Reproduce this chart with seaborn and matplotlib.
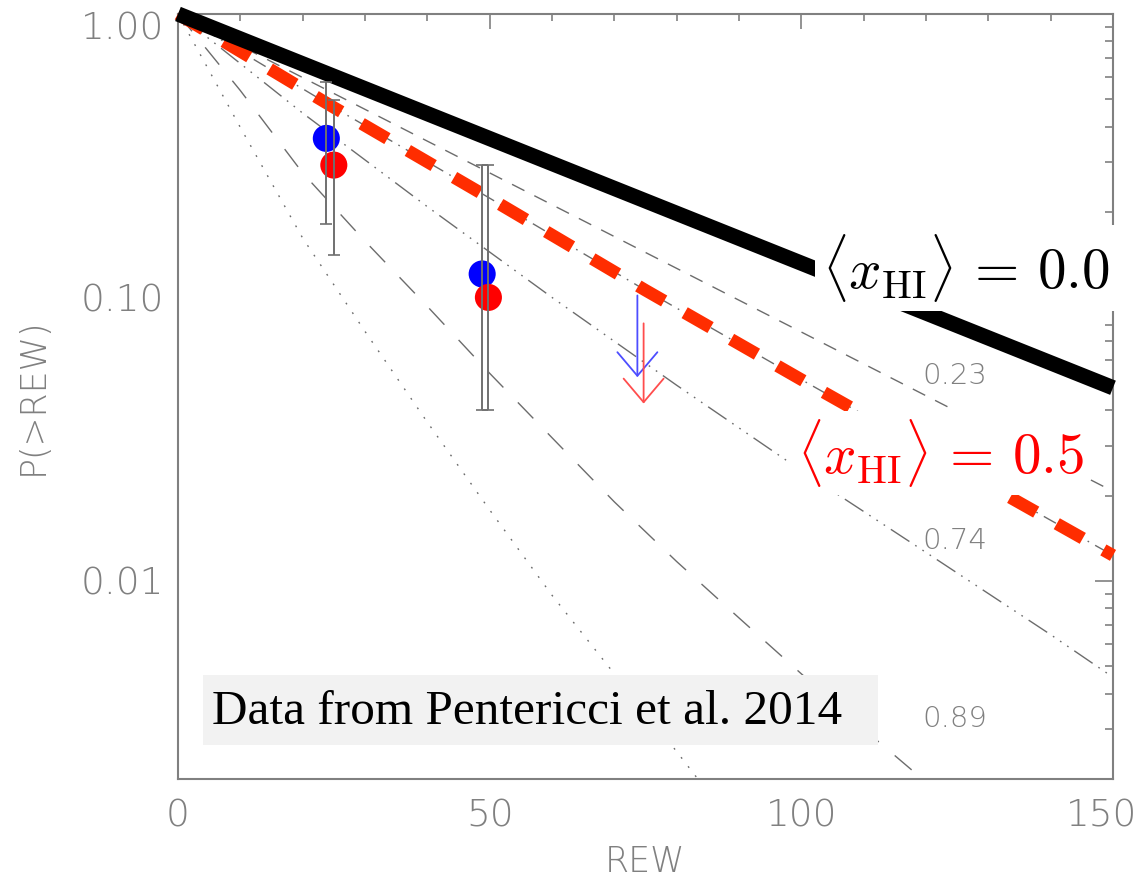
import matplotlib
matplotlib.use("Agg")
import matplotlib.pyplot as plt
import matplotlib.transforms as mtransforms
import seaborn as sns
import pandas as pd
from matplotlib.ticker import MultipleLocator, LogLocator, NullFormatter
from matplotlib.patches import Rectangle

# ---------------- data ----------------
# model curves P(>REW)
rew_x00 = [0, 150]
p_x00 = [1.0, 0.048]

rew_x05 = [0, 25, 50, 75, 100, 125, 150]
p_x05 = [1.0, 0.468, 0.224, 0.106, 0.0513, 0.0251, 0.0123]

rew_x023 = [0, 50, 100, 150]
p_x023 = [1.0, 0.275, 0.0755, 0.0207]

rew_x074 = [0, 20, 40, 60, 80, 100, 120, 140, 150]
p_x074 = [1.0, 0.447, 0.209, 0.100, 0.049, 0.0245, 0.0126, 0.00646, 0.00457]

rew_x089 = [0, 10, 20, 30, 40, 50, 60, 70, 80, 90, 100, 110, 120]
p_x089 = [1.0, 0.537, 0.275, 0.158, 0.093, 0.054, 0.032, 0.019, 0.0117,
          0.0074, 0.0047, 0.0030, 0.00195]

rew_xdot = [0, 10, 20, 30, 40, 50, 60, 70, 80, 85]
p_xdot = [1.0, 0.398, 0.162, 0.0759, 0.0363, 0.0178, 0.0089, 0.0047, 0.0025, 0.0018]

# observations (Pentericci et al. 2014)
obs_rew_blue = [23.8, 48.8]
obs_p_blue = [0.364, 0.121]
obs_lo_blue = [0.182, 0.0401]
obs_hi_blue = [0.576, 0.293]

obs_rew_red = [25.0, 49.8]
obs_p_red = [0.293, 0.100]
obs_lo_red = [0.141, 0.0401]
obs_hi_red = [0.497, 0.293]

# upper limits
ul_rew = [73.7, 74.7]
ul_top = [0.1016, 0.081]
ul_tip = [0.0523, 0.0422]
ul_colors = ["#4d4dff", "#ff4d4d"]

# annotations
curve_labels = ["0.23", "0.74", "0.89"]
curve_label_rew = [119.5, 119.5, 119.5]
curve_label_p = [0.053, 0.0138, 0.00325]

ytick_vals = [0.01, 0.1, 1.0]
ytick_labels = ["0.01", "0.10", "1.00"]
xtick_vals = [0, 50, 100, 150]
xtick_labels = ["0", "50", "100", "150"]

# ---------------- style ----------------
sns.set_style("white")
plt.rcParams["font.family"] = ["DejaVu Sans"]
plt.rcParams["mathtext.fontset"] = "cm"
plt.rcParams["lines.scale_dashes"] = False
GRAY = "#808080"
LGRAY = "#6c6c6c"

fig = plt.figure(figsize=(11.46, 8.85), dpi=100)
ax = fig.add_axes([0.1553, 0.1198, 0.8159, 0.8644])
ax.set_yscale("log")

def curve(rew, p, **kw):
    df = pd.DataFrame({"REW": rew, "P": p})
    sns.lineplot(data=df, x="REW", y="P", ax=ax, estimator=None, sort=False,
                 legend=False, **kw)

curve(rew_x023, p_x023, color=LGRAY, linewidth=1.0, linestyle=(0, (10, 8)), zorder=2)
curve(rew_x05, p_x05, color=LGRAY, linewidth=1.0, linestyle=(0, (10, 5, 1.2, 5)), zorder=2)
curve(rew_x074, p_x074, color=LGRAY, linewidth=1.0,
      linestyle=(0, (16, 5, 1.2, 5, 1.2, 5, 1.2, 5)), zorder=2)
curve(rew_x089, p_x089, color=LGRAY, linewidth=1.0, linestyle=(0, (16, 15)), zorder=2)
curve(rew_xdot, p_xdot, color=LGRAY, linewidth=1.0, linestyle=(0, (1.3, 7)), zorder=2)

curve(rew_x05, p_x05, color="#ff2d00", linewidth=9, linestyle=(0, (21.5, 17)),
      solid_capstyle="butt", dash_capstyle="butt", zorder=3, clip_on=False)
curve(rew_x00, p_x00, color="black", linewidth=11, solid_capstyle="butt",
      zorder=3.2, clip_on=False)

# points
sns.scatterplot(x=obs_rew_blue, y=obs_p_blue, color="#0000ff", s=380,
                edgecolor="none", ax=ax, zorder=4, legend=False)
sns.scatterplot(x=obs_rew_red, y=obs_p_red, color="#ff0000", s=380,
                edgecolor="none", ax=ax, zorder=4.1, legend=False)

for xs, ps, lo, hi in [(obs_rew_blue, obs_p_blue, obs_lo_blue, obs_hi_blue),
                       (obs_rew_red, obs_p_red, obs_lo_red, obs_hi_red)]:
    yerr = [[p - l for p, l in zip(ps, lo)], [h - p for p, h in zip(ps, hi)]]
    ax.errorbar(xs, ps, yerr=yerr, fmt="none", ecolor="#707070", elinewidth=1.4,
                capsize=4, capthick=1.2, zorder=4.5)

for x, top, tip, c in zip(ul_rew, ul_top, ul_tip, ul_colors):
    ax.annotate("", xy=(x, tip), xytext=(x, top),
                arrowprops=dict(arrowstyle="->,head_length=0.85,head_width=0.72",
                                color=c, lw=1.3, shrinkA=0, shrinkB=0,
                                mutation_scale=20),
                zorder=4.6)

# axes
ax.set_xlim(0, 150)
ax.set_ylim(0.002, 1.0)
ax.set_xticks(xtick_vals)
ax.set_xticklabels(xtick_labels)
ax.xaxis.set_minor_locator(MultipleLocator(10))
ax.set_yticks(ytick_vals)
ax.set_yticklabels(ytick_labels)
ax.yaxis.set_minor_locator(LogLocator(base=10, subs=[2, 3, 4, 5, 6, 7, 8, 9]))
ax.yaxis.set_minor_formatter(NullFormatter())

ax.tick_params(which="both", direction="in", top=True, right=True,
               color=GRAY, width=1.2, labelcolor=GRAY, labelsize=27)
ax.tick_params(axis="x", which="major", length=11, pad=14)
ax.tick_params(axis="x", which="minor", length=5)
ax.tick_params(axis="y", which="major", length=13, pad=10)
ax.tick_params(axis="y", which="minor", length=6)
for lab in ax.get_xticklabels() + ax.get_yticklabels():
    lab.set_fontweight("light")
for sp in ax.spines.values():
    sp.set_color(GRAY)
    sp.set_linewidth(1.5)

# IDL-like placement of the end labels
xl = ax.get_xticklabels()
xl[-1].set_transform(xl[-1].get_transform() +
                     mtransforms.ScaledTranslation(-0.11, 0, fig.dpi_scale_trans))
yl = ax.get_yticklabels()
yl[-1].set_verticalalignment("top")
yl[-1].set_transform(yl[-1].get_transform() +
                     mtransforms.ScaledTranslation(0, 0.02, fig.dpi_scale_trans))

ax.set_xlabel("REW", fontsize=25, color=GRAY, fontweight="light", labelpad=8)
ax.set_ylabel("P(>REW)", fontsize=25, color=GRAY, fontweight="light", labelpad=22)

# text annotations
for t, x, y in zip(curve_labels, curve_label_rew, curve_label_p):
    ax.text(x, y, t, fontsize=21, color=GRAY, fontweight="light",
            ha="left", va="center", zorder=5)

ax.text(0.689, 0.668, r"$\langle x_{\rm HI}\rangle \,=\, 0.0$", transform=ax.transAxes,
        fontsize=41, color="black", ha="left", va="center", zorder=6, clip_on=False,
        bbox=dict(boxstyle="square,pad=0.12", facecolor="white", edgecolor="none"))
ax.text(0.662, 0.426, r"$\langle x_{\rm HI}\rangle \,=\, 0.5$", transform=ax.transAxes,
        fontsize=41, color="#ff0000", ha="left", va="center", zorder=6,
        bbox=dict(boxstyle="square,pad=0.1", facecolor="white", edgecolor="none"))

ax.add_patch(Rectangle((0.0267, 0.0444), 0.722, 0.0915, transform=ax.transAxes,
                       facecolor="#f2f2f2", edgecolor="none", zorder=5.5))
ax.text(0.0364, 0.0876, "Data from Pentericci et al. 2014", transform=ax.transAxes,
        fontsize=35.5, family="Liberation Serif", color="black", ha="left",
        va="center", zorder=5.6)

fig.savefig("out.png", dpi=100)
